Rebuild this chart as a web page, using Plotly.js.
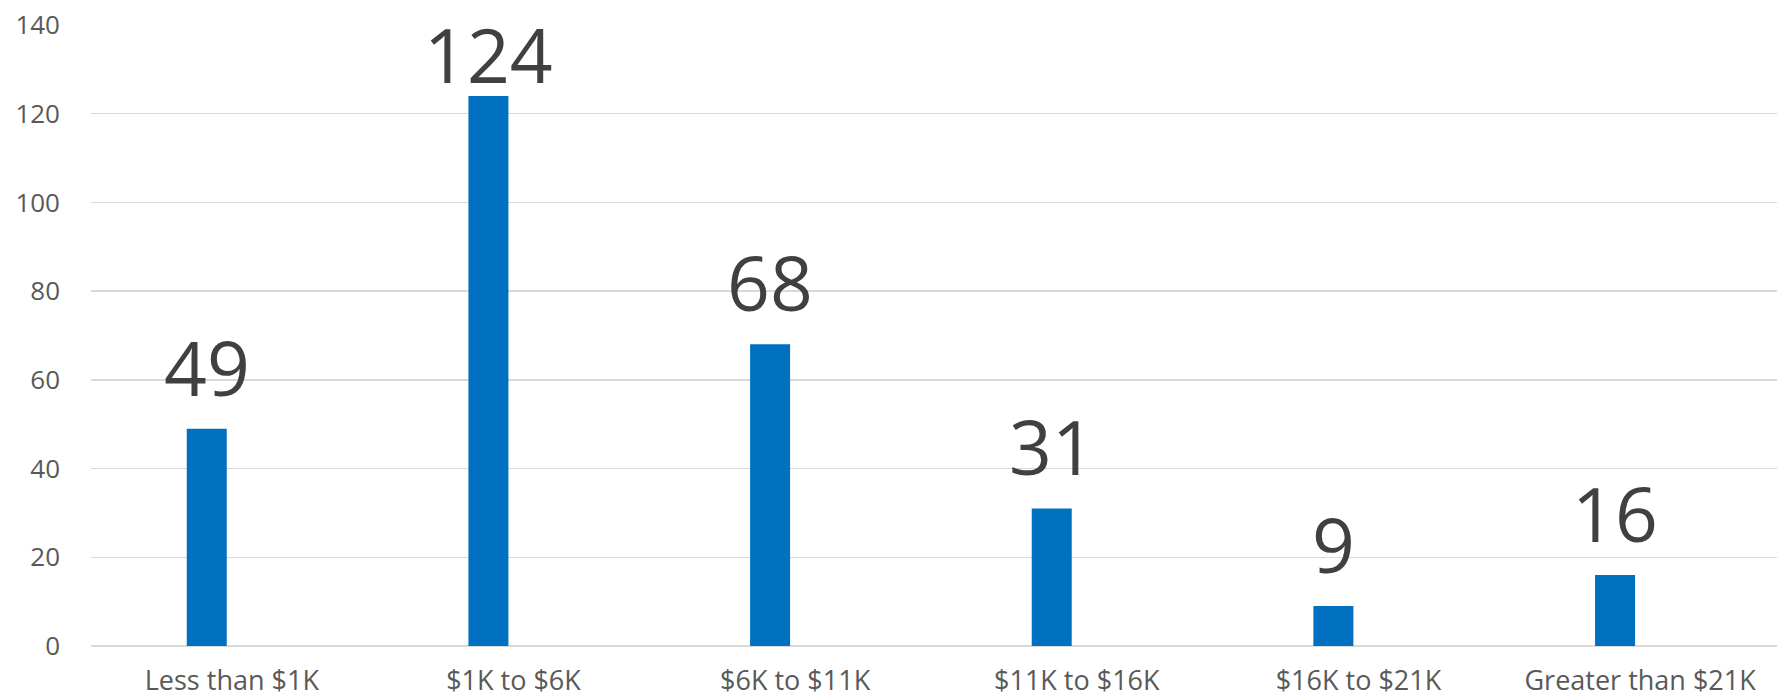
<!DOCTYPE html>
<html>
<head>
<meta charset="utf-8">
<script src="https://cdn.plot.ly/plotly-3.0.1.min.js"></script>
<style>
  html, body { margin: 0; padding: 0; background: #ffffff; }
  #chart { width: 1777px; height: 700px; }
</style>
</head>
<body>
<div id="chart"></div>
<script>
const categories = ["Less than $1K", "$1K to $6K", "$6K to $11K", "$11K to $16K", "$16K to $21K", "Greater than $21K"];
const values = [49, 124, 68, 31, 9, 16];
const yTickValues = [0, 20, 40, 60, 80, 100, 120, 140];

const marginTop = 25, marginBottom = 54, figHeight = 700;
const yMax = 140;
const plotH = figHeight - marginTop - marginBottom;
const pxPerUnit = plotH / yMax;
const labelGap = 35;      // baseline above bar top
const minBaseline = 81;   // keep label inside the chart

const annotations = values.map((v, i) => {
  const barTop = marginTop + (yMax - v) * pxPerUnit;
  const baseline = Math.max(barTop - labelGap, minBaseline);
  const shift = barTop - baseline;
  return {
    x: categories[i], y: v, xref: 'x', yref: 'y',
    text: String(v), showarrow: false,
    xanchor: 'center', yanchor: 'bottom',
    xshift: -25, yshift: shift - 26,
    font: { family: '"Open Sans", sans-serif', size: 75, color: '#404040' }
  };
});

const trace = {
  type: 'bar',
  x: categories,
  y: values,
  width: 0.142,
  offset: -0.16,
  marker: { color: '#0070c0', line: { width: 0 } },
  hoverinfo: 'x+y'
};

const layout = {
  width: 1777, height: 700,
  margin: { l: 91, r: 0, t: marginTop, b: marginBottom, pad: 0 },
  paper_bgcolor: '#ffffff', plot_bgcolor: '#ffffff',
  showlegend: false,
  font: { family: '"Open Sans", sans-serif', color: '#595959' },
  xaxis: {
    type: 'category',
    range: [-0.5, 5.486],
    showgrid: false, zeroline: false, showline: false,
    ticks: '', ticklabelstandoff: 16,
    tickfont: { family: '"Open Sans", sans-serif', size: 27, color: '#595959' },
    fixedrange: true
  },
  yaxis: {
    range: [0, yMax],
    tickvals: yTickValues,
    ticktext: yTickValues.map(String),
    showgrid: true, gridcolor: '#d9d9d9', gridwidth: 1.5,
    zeroline: true, zerolinecolor: '#d9d9d9', zerolinewidth: 1.5,
    showline: false, ticks: '', ticklabelstandoff: 30,
    tickfont: { family: '"Open Sans", sans-serif', size: 26, color: '#595959' },
    fixedrange: true
  },
  annotations: annotations
};

Plotly.newPlot('chart', [trace], layout, { displayModeBar: false, staticPlot: true });
</script>
</body>
</html>
